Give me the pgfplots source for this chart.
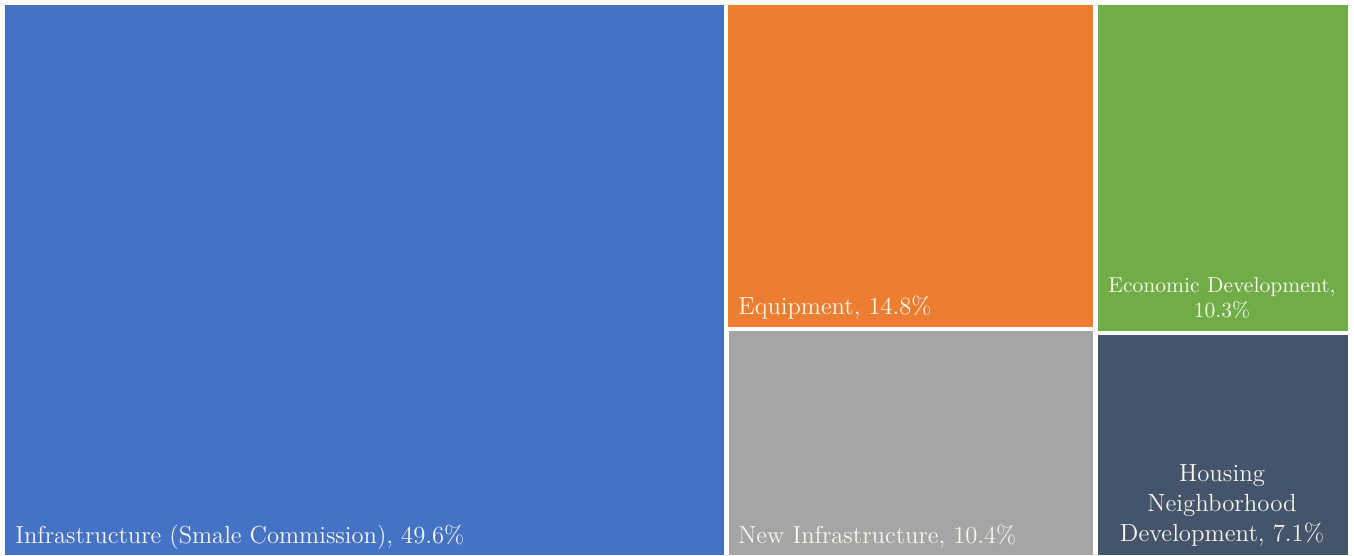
\documentclass[border=0pt]{standalone}
\usepackage{pgfplots}
\pgfplotsset{compat=1.18}
\definecolor{cblue}{HTML}{4472C4}
\definecolor{corange}{HTML}{ED7D31}
\definecolor{cgrey}{HTML}{A5A5A5}
\definecolor{cgreen}{HTML}{70AD47}
\definecolor{cdark}{HTML}{44546A}
\definecolor{ctext}{RGB}{248,246,236}
\begin{document}
\begin{tikzpicture}
\begin{axis}[
  scale only axis, width=677pt, height=277.5pt,
  xmin=0, xmax=1354, ymin=0, ymax=555, y dir=reverse,
  hide axis, clip=true]
% white background (full extent)
\addplot[fill=white, draw=none] coordinates {(0,0) (1354,0) (1354,555) (0,555)};
% Infrastructure (Smale Commission) 49.6%
\addplot[fill=cblue, draw=none] coordinates {(5,5) (724,5) (724,555) (5,555)};
% Equipment 14.8%
\addplot[fill=corange, draw=none] coordinates {(728,5) (1093,5) (1093,327) (728,327)};
% New Infrastructure 10.4%
\addplot[fill=cgrey, draw=none] coordinates {(729,331) (1093,331) (1093,555) (729,555)};
% Economic Development 10.3%
\addplot[fill=cgreen, draw=none] coordinates {(1098,5) (1348,5) (1348,331) (1098,331)};
% Housing Neighborhood Development 7.1%
\addplot[fill=cdark, draw=none] coordinates {(1098,335) (1348,335) (1348,555) (1098,555)};
\node[anchor=base west, text=ctext, font=\fontsize{12.3}{14}\selectfont, inner sep=0pt] at (axis cs:15,543) {Infrastructure (Smale Commission), 49.6\%};
\node[anchor=base west, text=ctext, font=\fontsize{12.3}{14}\selectfont, inner sep=0pt] at (axis cs:738,314) {Equipment, 14.8\%};
\node[anchor=base west, text=ctext, font=\fontsize{12.3}{14}\selectfont, inner sep=0pt] at (axis cs:738,543) {New Infrastructure, 10.4\%};
\node[anchor=center, text=ctext, font=\fontsize{10.8}{12.5}\selectfont, align=center, inner sep=0pt] at (axis cs:1222,298) {Economic Development,\\10.3\%};
\node[anchor=center, text=ctext, font=\fontsize{12.4}{15}\selectfont, align=center, inner sep=0pt] at (axis cs:1222,505) {Housing\\Neighborhood\\Development, 7.1\%};
\end{axis}
\end{tikzpicture}
\end{document}
